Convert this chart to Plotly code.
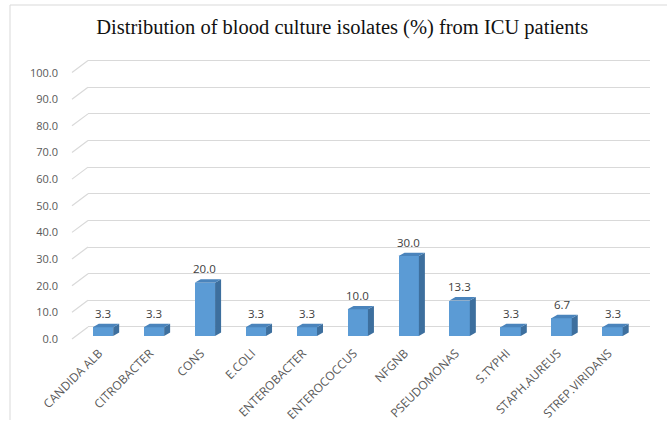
import plotly.graph_objects as go

categories = ["CANDIDA ALB", "CITROBACTER", "CONS", "E.COLI", "ENTEROBACTER",
              "ENTEROCOCCUS", "NFGNB", "PSEUDOMONAS", "S.TYPHI", "STAPH.AUREUS",
              "STREP.VIRIDANS"]
values = [3.3, 3.3, 20.0, 3.3, 3.3, 10.0, 30.0, 13.3, 3.3, 6.7, 3.3]
y_ticks = [0, 10, 20, 30, 40, 50, 60, 70, 80, 90, 100]
title = "Distribution of blood culture isolates (%) from ICU patients"

W, H = 667, 423
ml, mr, mt, mb = 88, 17, 59, 83
bw = 0.40          # bar width (category units)
dx, dy = 0.118, 1.3  # 3D depth offsets
back = 3.4         # wall offset (value units)
yr = [-1.5, 104]

xs = list(range(len(categories)))

fig = go.Figure()
# front faces
fig.add_trace(go.Bar(x=xs, y=values, width=bw, marker=dict(color="#5B9BD5", line=dict(width=0)),
                     hoverinfo="skip", showlegend=False))
# side and top faces
sx, sy, tx, ty = [], [], [], []
for i, v in zip(xs, values):
    r = i + bw / 2
    l = i - bw / 2
    sx += [r, r + dx, r + dx, r, r, None]
    sy += [0, dy, v + dy, v, 0, None]
    tx += [l, r, r + dx, l + dx, l, None]
    ty += [v, v, v + dy, v + dy, v, None]
fig.add_trace(go.Scatter(x=sx, y=sy, mode="lines", fill="toself", fillcolor="#3D6F9E",
                         line=dict(width=0, color="#3D6F9E"), hoverinfo="skip", showlegend=False))
fig.add_trace(go.Scatter(x=tx, y=ty, mode="lines", fill="toself", fillcolor="#4A84BC",
                         line=dict(width=0, color="#4A84BC"), hoverinfo="skip", showlegend=False))
# gridline axis (back wall)
fig.add_trace(go.Scatter(x=[0], y=[0], yaxis="y2", mode="markers", marker=dict(opacity=0),
                         hoverinfo="skip", showlegend=False))

for i, v in zip(xs, values):
    fig.add_annotation(x=i, y=v, text=f"{v:.1f}", showarrow=False, yshift=14,
                       font=dict(family="Open Sans", size=11.5, color="#404040"))

shapes = []
for t in y_ticks:
    shapes.append(dict(type="line", xref="paper", yref="y", x0=-0.0285, x1=0,
                       y0=t - 1.1, y1=t + back, line=dict(color="#D9D9D9", width=1.2), layer="below"))
# outer border
pw = W - ml - mr
ph = H - mt - mb
shapes.append(dict(type="line", xref="paper", yref="paper",
                   x0=(10 - ml) / pw, x1=(680 - ml) / pw,
                   y0=(H - mb - 5) / ph, y1=(H - mb - 5) / ph,
                   line=dict(color="#D9D9D9", width=1)))
shapes.append(dict(type="line", xref="paper", yref="paper",
                   x0=(10 - ml) / pw, x1=(10 - ml) / pw,
                   y0=(H - mb - 5) / ph, y1=(H - mb - 420) / ph,
                   line=dict(color="#D9D9D9", width=1)))

fig.update_layout(
    width=W, height=H,
    margin=dict(l=ml, r=mr, t=mt, b=mb, autoexpand=False),
    paper_bgcolor="white", plot_bgcolor="white",
    title=dict(text=title, x=0.513, xanchor="center", y=1 - 27 / H, yanchor="middle",
               font=dict(family="Liberation Serif", size=20.5, color="#111111")),
    xaxis=dict(range=[-0.294, 10.736], tickvals=xs, ticktext=categories, tickangle=-45,
               showgrid=False, zeroline=False, showline=False, ticks="", automargin=False,
               ticklabelstandoff=3, ticklabelshift=-4,
               tickfont=dict(family="Open Sans", size=12, color="#595959")),
    yaxis=dict(range=yr, tickvals=y_ticks, ticktext=[f"{t:.1f}" for t in y_ticks],
               showgrid=False, zeroline=False, showline=False, ticks="", automargin=False,
               ticklabelstandoff=29, ticklabelshift=3,
               tickfont=dict(family="Open Sans", size=11, color="#595959")),
    yaxis2=dict(range=[yr[0] - back, yr[1] - back], overlaying="y", tickvals=y_ticks,
                showticklabels=False, showgrid=True, gridcolor="#D9D9D9", gridwidth=1.2,
                zeroline=False, showline=False, ticks="", automargin=False),
    shapes=shapes,
    bargap=0,
)
fig.write_html("out.html", config={"displayModeBar": False},
               post_script="document.body.style.margin='0';document.body.style.overflow='hidden';")
